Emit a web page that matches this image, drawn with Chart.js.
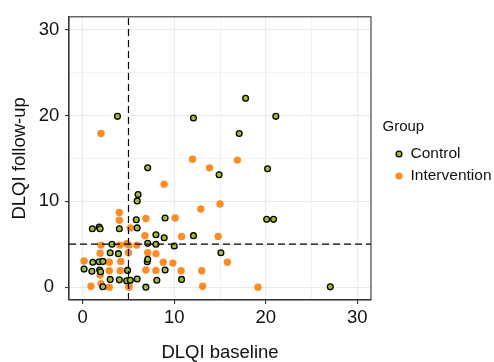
<!DOCTYPE html>
<html>
<head>
<meta charset="utf-8">
<script src="https://cdn.jsdelivr.net/npm/chart.js@4/dist/chart.umd.min.js"></script>
<style>
  html, body { margin: 0; padding: 0; background: #fff; }
  canvas { display: block; }
</style>
</head>
<body>
<canvas id="c" width="494" height="362"></canvas>
<script>
const categories = ["Control", "Intervention"];
const legendTitle = "Group";
const xTitle = "DLQI baseline";
const yTitle = "DLQI follow-up";
const tickLabels = [0, 10, 20, 30];
const cutoff = 5;

const controlX = [17.8, 3.8, 12.1, 21.1, 17.1, 7.1, 14.9, 20.2, 6.05, 5.95, 5.85, 9.0, 1.05, 1.8, 1.9, 4.0, 5.95, 8.0, 8.9, 12.1, 3.2, 7.1, 8.0, 10.0, 3.0, 3.9, 1.1, 1.8, 2.2, 7.05, 7.1, 0.15, 1.0, 1.85, 1.95, 4.9, 9.0, 3.0, 4.0, 4.8, 5.2, 5.95, 8.1, 10.8, 2.2, 6.9, 20.1, 20.85, 15.1, 27.05];
const controlY = [22.0, 19.9, 19.7, 19.9, 17.9, 13.9, 13.1, 13.8, 10.8, 10.05, 7.85, 8.05, 6.8, 7.0, 6.8, 6.8, 6.9, 6.1, 5.75, 6.0, 5.0, 5.1, 5.0, 4.8, 4.0, 3.9, 2.9, 2.95, 3.0, 2.95, 3.25, 2.1, 1.85, 2.0, 1.8, 1.95, 2.0, 0.9, 0.85, 0.75, 0.8, 0.95, 0.8, 0.9, 0.05, 0.0, 7.9, 7.9, 4.0, 0.03];

const interventionX = [2.0, 12.0, 13.85, 16.9, 8.9, 15.0, 12.9, 4.0, 4.0, 6.9, 10.1, 5.2, 6.8, 10.8, 14.8, 2.0, 4.05, 4.8, 5.05, 5.9, 1.9, 5.0, 7.1, 8.0, 0.15, 2.9, 4.15, 8.8, 9.85, 15.8, 4.1, 6.9, 8.0, 10.75, 13.0, 2.9, 1.9, 0.9, 2.9, 5.05, 5.05, 13.1, 19.15, 2.0];
const interventionY = [17.9, 14.9, 13.9, 14.8, 12.0, 9.7, 9.1, 8.7, 7.8, 8.0, 8.05, 6.9, 6.0, 5.9, 5.9, 4.9, 4.9, 5.05, 4.9, 4.9, 3.95, 4.0, 4.0, 3.9, 3.05, 2.9, 3.0, 2.9, 2.8, 2.9, 1.9, 2.0, 1.95, 1.9, 1.9, 1.9, 1.4, 0.1, 0.0, 0.0, 0.3, 0.1, 0.0, 0.4];

const FONT = "'Liberation Sans', Arial, Helvetica, sans-serif";
const GREEN = '#9dbd36';
const ORANGE = '#fc8d26';

const toPoints = (xs, ys) => xs.map((x, i) => ({ x: x, y: ys[i] }));

const frameAndLines = {
  id: 'frameAndLines',
  afterDatasetsDraw(chart) {
    const { ctx, chartArea: a, scales: { x, y } } = chart;
    ctx.save();
    ctx.strokeStyle = '#000';
    ctx.lineWidth = 1.2;
    ctx.setLineDash([7, 4]);
    const px = x.getPixelForValue(cutoff);
    const py = y.getPixelForValue(cutoff);
    ctx.beginPath();
    ctx.moveTo(px, a.bottom); ctx.lineTo(px, a.top);
    ctx.moveTo(a.left, py); ctx.lineTo(a.right, py);
    ctx.stroke();
    ctx.setLineDash([]);
    ctx.strokeStyle = '#333';
    ctx.lineWidth = 1.1;
    ctx.strokeRect(a.left, a.top, a.right - a.left, a.bottom - a.top);
    ctx.restore();
  },
  afterDraw(chart) {
    const { ctx } = chart;
    ctx.save();
    ctx.fillStyle = '#111';
    ctx.textBaseline = 'middle';
    ctx.textAlign = 'left';
    ctx.font = '15px ' + FONT;
    ctx.fillText(legendTitle, 382.5, 127);
    const keys = [{ y: 154, c: GREEN, b: true }, { y: 176, c: ORANGE, b: false }];
    categories.forEach((name, i) => {
      const k = keys[i];
      ctx.beginPath();
      ctx.arc(399, k.y, k.b ? 2.9 : 3.6, 0, Math.PI * 2);
      ctx.fillStyle = k.c;
      ctx.fill();
      if (k.b) { ctx.lineWidth = 1.3; ctx.strokeStyle = '#000'; ctx.stroke(); }
      ctx.fillStyle = '#111';
      ctx.font = '15.5px ' + FONT;
      ctx.fillText(name, 410.5, k.y - 0.5);
    });
    ctx.restore();
  }
};

const tickOpts = {
  stepSize: 5,
  includeBounds: false,
  color: '#111',
  font: { family: FONT, size: 18.5 },
  callback: (v) => tickLabels.includes(v) ? String(v) : ''
};

const gridOpts = {
  color: '#ebebeb',
  lineWidth: (c) => (c.tick && c.tick.value % 10 === 0) ? 1.1 : 0.7,
  tickColor: (c) => (c.tick && c.tick.value % 10 === 0) ? '#333' : 'rgba(0,0,0,0)',
  tickLength: 4,
  tickWidth: 1.1,
  drawTicks: true
};

new Chart(document.getElementById('c'), {
  type: 'scatter',
  data: {
    datasets: [
      {
        label: categories[0],
        data: toPoints(controlX, controlY),
        backgroundColor: GREEN,
        borderColor: '#000',
        borderWidth: 1.3,
        pointRadius: 2.9
      },
      {
        label: categories[1],
        data: toPoints(interventionX, interventionY),
        backgroundColor: ORANGE,
        borderWidth: 0,
        pointRadius: 3.7
      }
    ]
  },
  options: {
    responsive: false,
    animation: false,
    devicePixelRatio: 1,
    layout: { padding: { top: 12, right: 123, left: 0, bottom: 0 } },
    plugins: { legend: { display: false }, tooltip: { enabled: false } },
    scales: {
      x: {
        type: 'linear',
        min: -1.5, max: 31.5,
        ticks: Object.assign({}, tickOpts, { padding: 3, maxRotation: 0, autoSkip: false }),
        grid: gridOpts,
        border: { display: true, color: '#333', width: 1.1 },
        title: { display: true, text: xTitle, color: '#111', font: { family: FONT, size: 18.5, lineHeight: 1 }, padding: 0 },
        afterFit: (s) => { s.height = 62; }
      },
      y: {
        type: 'linear',
        min: -1.5, max: 31.5,
        ticks: Object.assign({}, tickOpts, { padding: 5.7, crossAlign: 'center', autoSkip: false }),
        grid: gridOpts,
        border: { display: true, color: '#333', width: 1.1 },
        title: { display: true, text: yTitle, color: '#111', font: { family: FONT, size: 18.5, lineHeight: 1.2 }, padding: { top: 8.4, bottom: 0 } },
        afterFit: (s) => { s.width = 69; }
      }
    }
  },
  plugins: [frameAndLines]
});
</script>
</body>
</html>
